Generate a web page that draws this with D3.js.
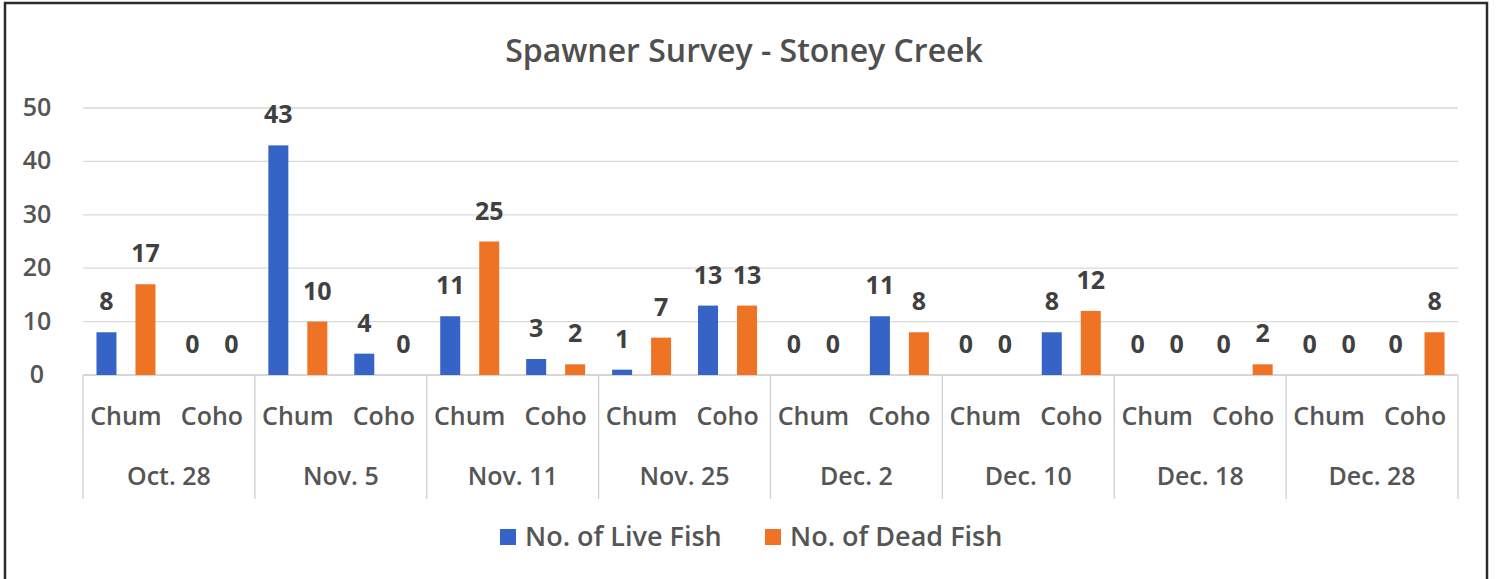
<!DOCTYPE html>
<html><head><meta charset="utf-8">
<script src="https://cdn.jsdelivr.net/npm/d3@7/dist/d3.min.js"></script>
<style>
html,body{margin:0;padding:0;background:#fff;}
svg text{font-family:"Open Sans","Noto Sans",sans-serif;}
</style></head>
<body><svg id="c" width="1496" height="579"></svg>
<script>
const dates = ["Oct. 28","Nov. 5","Nov. 11","Nov. 25","Dec. 2","Dec. 10","Dec. 18","Dec. 28"];
const species = ["Chum","Coho"];
const seriesNames = ["No. of Live Fish","No. of Dead Fish"];
// values in order: for each date, Chum then Coho
const liveFish = [8,0, 43,4, 11,3, 1,13, 0,11, 0,8, 0,0, 0,0];
const deadFish = [17,0, 10,0, 25,2, 7,13, 0,8, 0,12, 0,2, 0,8];
const yTicks = [0,10,20,30,40,50];
const colors = ["#3563C6","#EE7324"];

(function(){
const svg = d3.select("#c");
svg.append("rect").attr("x",5).attr("y",3).attr("width",1482).attr("height",590)
  .attr("fill","#fff").attr("stroke","#2b2b2b").attr("stroke-width",2.5);

const pL=83, pR=1458, pT=108, pB=375;
const y = d3.scaleLinear().domain([0,50]).range([pB,pT]);
const x0 = d3.scaleBand().domain(dates).range([pL,pR]).padding(0);
const x1 = d3.scaleBand().domain(species).range([0,x0.bandwidth()]).padding(0);

// title
svg.append("text").attr("x",744).attr("y",62).attr("text-anchor","middle")
  .attr("font-size",32).attr("font-weight",600).attr("fill","#4f4f4f")
  .text("Spawner Survey - Stoney Creek");

// gridlines
svg.append("g").selectAll("line").data(yTicks).join("line")
  .attr("x1",pL).attr("x2",pR).attr("y1",d=>y(d)).attr("y2",d=>y(d))
  .attr("stroke",d=>d===0?"#c8c8c8":"#d9d9d9").attr("stroke-width",1.3);

// y labels
svg.append("g").selectAll("text").data(yTicks).join("text")
  .attr("x",37).attr("y",d=>y(d)+8).attr("text-anchor","middle")
  .attr("font-size",25).attr("font-weight",600).attr("fill","#555")
  .text(d=>d);

// bars
const rows=[];
dates.forEach((d,i)=>species.forEach((s,j)=>{
  const k=i*2+j;
  rows.push({date:d,sp:s,series:seriesNames[0],v:liveFish[k],c:colors[0]});
  rows.push({date:d,sp:s,series:seriesNames[1],v:deadFish[k],c:colors[1]});
}));
const bw = 20;
const cx = r => x0(r.date)+x1(r.sp)+x1.bandwidth()/2 + (r.series===seriesNames[0]?-19.5:19.5);
svg.append("g").selectAll("rect").data(rows).join("rect")
  .attr("x",r=>cx(r)-bw/2).attr("width",bw)
  .attr("y",r=>y(r.v)).attr("height",r=>y(0)-y(r.v)).attr("fill",r=>r.c);
svg.append("g").selectAll("text").data(rows).join("text")
  .attr("x",cx).attr("y",r=>y(r.v)-22).attr("text-anchor","middle")
  .attr("font-size",25).attr("font-weight",700).attr("fill","#404040")
  .text(r=>r.v);

// category axis
const sepX = dates.map(d=>x0(d)).concat([pR]);
svg.append("g").selectAll("line").data(sepX).join("line")
  .attr("x1",d=>d).attr("x2",d=>d).attr("y1",pB).attr("y2",499)
  .attr("stroke","#d0d0d0").attr("stroke-width",1.3);
const subs=[];
dates.forEach(d=>species.forEach(s=>subs.push({d,s})));
svg.append("g").selectAll("text").data(subs).join("text")
  .attr("x",o=>x0(o.d)+x1(o.s)+x1.bandwidth()/2).attr("y",425)
  .attr("text-anchor","middle").attr("font-size",25).attr("font-weight",600).attr("fill","#555")
  .text(o=>o.s);
svg.append("g").selectAll("text").data(dates).join("text")
  .attr("x",d=>x0(d)+x0.bandwidth()/2).attr("y",485)
  .attr("text-anchor","middle").attr("font-size",25).attr("font-weight",600).attr("fill","#555")
  .text(d=>d);

// legend
const lg = svg.append("g");
const legX=[500,765];
seriesNames.forEach((n,i)=>{
  lg.append("rect").attr("x",legX[i]).attr("y",529).attr("width",16).attr("height",16).attr("fill",colors[i]);
  lg.append("text").attr("x",legX[i]+25).attr("y",546).attr("font-size",27).attr("font-weight",600)
    .attr("fill","#555").text(n);
});
})();
</script></body></html>
